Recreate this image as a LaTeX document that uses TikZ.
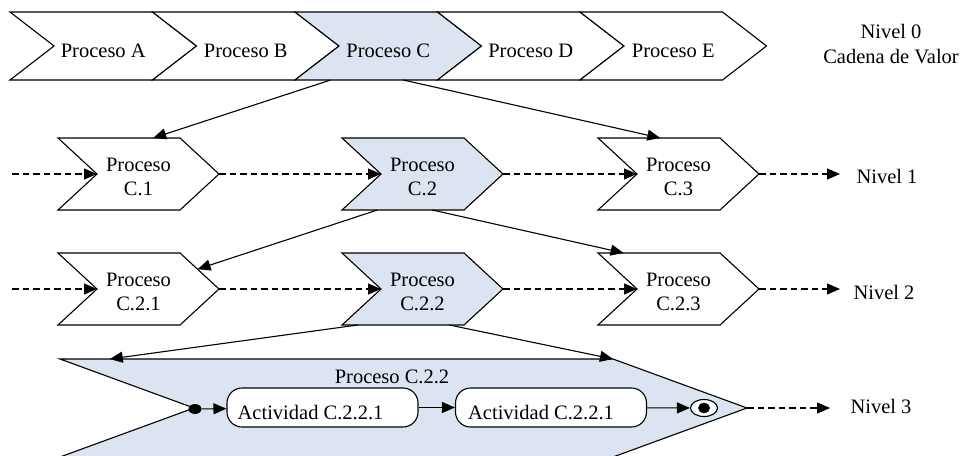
\documentclass[tikz,border=0pt]{standalone}
\usepackage{fontspec}
\setmainfont{Liberation Serif}
\usetikzlibrary{arrows.meta,calc,shapes.geometric}
\definecolor{procfill}{RGB}{219,228,240}

% Chevron: #1 name, #2 left x, #3 top y, #4 top edge length, #5 height, #6 point depth, #7 fill
\newcommand\chevshape[7]{%
  \coordinate (#1-tl) at (#2,#3);
  \coordinate (#1-tr) at (#2+#4,#3);
  \coordinate (#1-bl) at (#2,#3+#5);
  \coordinate (#1-br) at (#2+#4,#3+#5);
  \coordinate (#1-notch) at (#2+#6,#3+#5/2);
  \coordinate (#1-tip) at (#2+#4+#6,#3+#5/2);
  \coordinate (#1-c) at (#2+#6/2+#4/2,#3+#5/2);
  \draw[chevline,fill=#7] (#1-tl) -- (#1-tr) -- (#1-tip) -- (#1-br) -- (#1-bl) -- (#1-notch) -- cycle;
}

\begin{document}
\begin{tikzpicture}[x=1pt,y=-1pt,
  chevline/.style={draw=black,line width=1.1pt,line join=miter},
  lbl/.style={font=\fontsize{20.5}{24}\selectfont,inner sep=0pt,align=center},
  flow/.style={line width=1.1pt,-{Triangle[length=13pt,width=11pt]}},
  seq/.style={flow,dash pattern=on 6.5pt off 4pt},
  activity/.style={draw,line width=1.1pt,fill=white,rounded corners=15pt,
    minimum width=191pt,minimum height=39pt,inner sep=0pt}
]
\useasboundingbox (0,0) rectangle (965,455);
\clip (0,0) rectangle (965,455);

% ---------- Level 0: value chain ----------
\chevshape{A}{10}{12}{142.5}{68}{44}{white}
\chevshape{B}{152.5}{12}{142.5}{68}{44}{white}
\chevshape{C}{295}{12}{142.5}{68}{44}{procfill}
\chevshape{D}{437.5}{12}{142.5}{68}{44}{white}
\chevshape{E}{580}{12}{142.5}{68}{44}{white}
\node[lbl] (tA) at ($(A-c)+(0,5)$) {Proceso A};
\node[lbl] (tB) at ($(B-c)+(0,5)$) {Proceso B};
\node[lbl] (tC) at ($(C-c)+(0,5)$) {Proceso C};
\node[lbl] (tD) at ($(D-c)+(0,5)$) {Proceso D};
\node[lbl] (tE) at ($(E-c)+(0,5)$) {Proceso E};
\node[lbl,font=\fontsize{20.5}{25}\selectfont] (n0) at (891,44) {Nivel 0\\Cadena de Valor};

% ---------- Level 1 ----------
\chevshape{C1}{58}{138}{122}{72}{39}{white}
\chevshape{C2}{342}{138}{122}{72}{39}{procfill}
\chevshape{C3}{598}{138}{122}{72}{39}{white}
\node[lbl] (tC1) at ($(C1-c)+(0,3)$) {Proceso\\C.1};
\node[lbl] (tC2) at ($(C2-c)+(0,3)$) {Proceso\\C.2};
\node[lbl] (tC3) at ($(C3-c)+(0,3)$) {Proceso\\C.3};
\node[lbl] (n1) at (887,176) {Nivel 1};
\coordinate (in1) at (12,174);
\coordinate (out1) at (840,174);
\draw[seq] (in1) -- (C1-notch);
\draw[seq] (C1-tip) -- (C2-notch);
\draw[seq] (C2-tip) -- (C3-notch);
\draw[seq] (C3-tip) -- (out1);

% ---------- Level 2 ----------
\chevshape{C21}{58}{253}{122}{72}{39}{white}
\chevshape{C22}{342}{253}{122}{72}{39}{procfill}
\chevshape{C23}{598}{253}{122}{72}{39}{white}
\node[lbl] (tC21) at ($(C21-c)+(0,3)$) {Proceso\\C.2.1};
\node[lbl] (tC22) at ($(C22-c)+(0,3)$) {Proceso\\C.2.2};
\node[lbl] (tC23) at ($(C23-c)+(0,3)$) {Proceso\\C.2.3};
\node[lbl] (n2) at (884,292) {Nivel 2};
\coordinate (in2) at (12,289);
\coordinate (out2) at (840,289);
\draw[seq] (in2) -- (C21-notch);
\draw[seq] (C21-tip) -- (C22-notch);
\draw[seq] (C22-tip) -- (C23-notch);
\draw[seq] (C23-tip) -- (out2);

% ---------- Level 3: detail of Proceso C.2.2 ----------
\chevshape{P}{60}{359}{553}{98}{134}{procfill}
\node[lbl] (tP) at (392,377) {Proceso C.2.2};
\node[lbl] (n3) at (881,406) {Nivel 3};
\coordinate (out3) at (830,408);
\draw[seq] (P-tip) -- (out3);

\node[ellipse,fill=black,minimum width=13pt,minimum height=10pt,inner sep=0pt] (start) at (195,409) {};
\node[activity] (act1) at (322.5,407.5) {};
\node[activity] (act2) at (551,407.5) {};
\node[lbl,anchor=west] (tact1) at ($(act1.west)+(11,5.5)$) {Actividad C.2.2.1};
\node[lbl,anchor=west] (tact2) at ($(act2.west)+(13,5.5)$) {Actividad C.2.2.1};
\node[ellipse,draw,line width=1.1pt,fill=white,minimum width=27pt,minimum height=17pt,inner sep=0pt] (end) at (704,408) {};
\node[ellipse,fill=black,minimum width=12pt,minimum height=10pt,inner sep=0pt] (endcore) at (end) {};
\draw[flow] (start) -- (act1);
\draw[flow] (act1) -- (act2);
\draw[flow] (act2) -- (end);

% ---------- decomposition arrows ----------
\coordinate (C-o1) at ($(C-bl)!0.25!(C-br)$);
\coordinate (C-o2) at ($(C-bl)!0.76!(C-br)$);
\coordinate (C1-i) at ($(C1-tl)!0.78!(C1-tr)$);
\coordinate (C3-i) at ($(C3-tl)!0.51!(C3-tr)$);
\draw[flow] (C-o1) -- (C1-i);
\draw[flow] (C-o2) -- (C3-i);

\coordinate (C2-o1) at ($(C2-bl)!0.29!(C2-br)$);
\coordinate (C2-o2) at ($(C2-bl)!0.74!(C2-br)$);
\coordinate (C21-i) at ($(C21-tr)!0.45!(C21-tip)$);
\coordinate (C23-i) at ($(C23-tl)!0.21!(C23-tr)$);
\draw[flow] (C2-o1) -- (C21-i);
\draw[flow] (C2-o2) -- (C23-i);

\coordinate (C22-o1) at ($(C22-bl)!0.13!(C22-br)$);
\coordinate (C22-o2) at ($(C22-bl)!0.88!(C22-br)$);
\coordinate (P-i1) at ($(P-tl)!0.09!(P-tr)$);
\coordinate (P-i2) at ($(P-tl)!1.0!(P-tr)$);
\draw[flow] (C22-o1) -- (P-i1);
\draw[flow] (C22-o2) -- (P-i2);
\end{tikzpicture}
\end{document}
